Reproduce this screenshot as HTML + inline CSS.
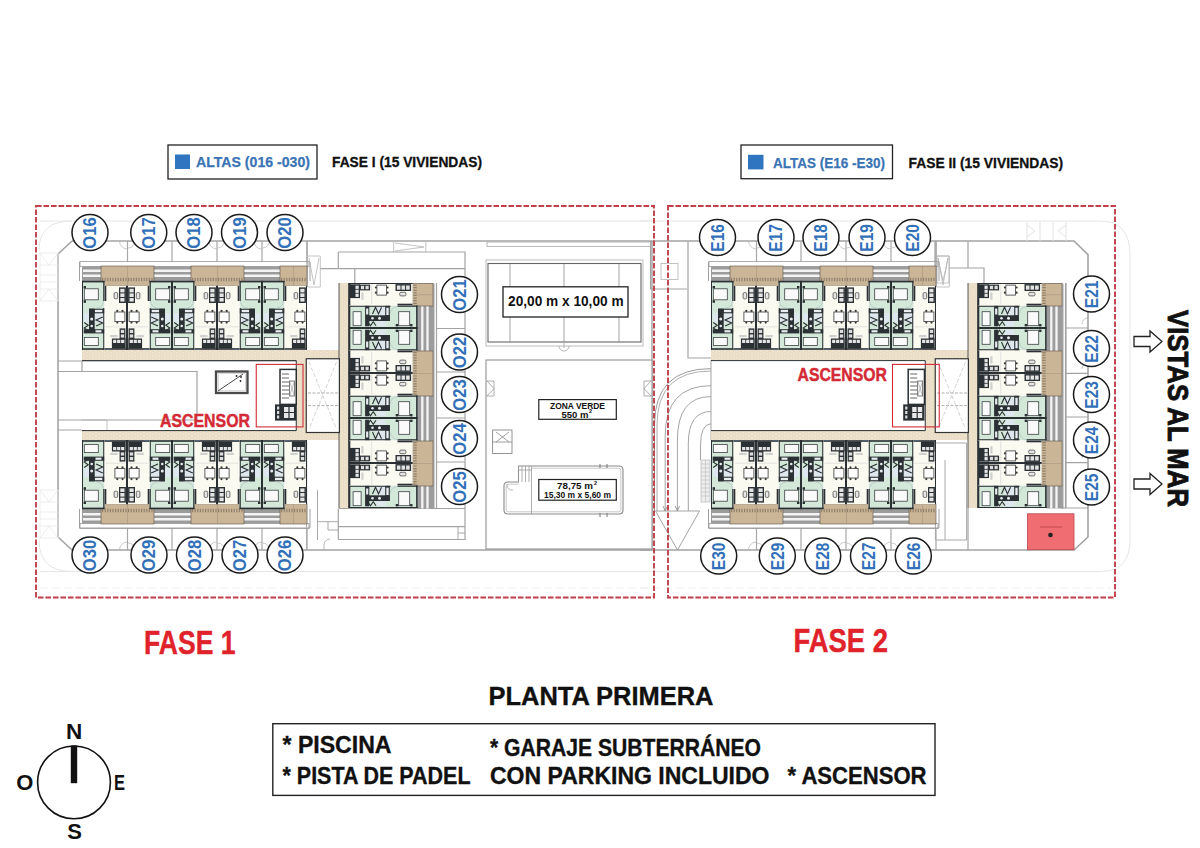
<!DOCTYPE html><html><head><meta charset="utf-8"><style>html,body{margin:0;padding:0;background:#fff;}svg{display:block;font-family:"Liberation Sans",sans-serif;}</style></head><body>
<svg width="1200" height="848" viewBox="0 0 1200 848">
<defs>
<pattern id="brick" width="6" height="3.4" patternUnits="userSpaceOnUse"><rect width="6" height="3.4" fill="#f4ecdc"/><rect x="0.4" y="0.3" width="5.2" height="1.1" fill="#e3d6bb"/><rect x="-2.6" y="2" width="5.2" height="1.1" fill="#e3d6bb"/><rect x="3.4" y="2" width="5.2" height="1.1" fill="#e3d6bb"/></pattern>
<g id="G"><rect x="0" y="0" width="22.5" height="69" fill="#d3e8d8"/><rect x="0" y="-0.2" width="1.0" height="69.2" fill="#2b3034"/><rect x="0" y="-0.2" width="22.5" height="1.6" fill="#2b3034"/><rect x="0" y="67.2" width="22.5" height="1.6" fill="#2b3034"/><rect x="21.2" y="0" width="1.3" height="20" fill="#2b3034"/><rect x="21.2" y="27" width="1.3" height="42" fill="#2b3034"/><path d="M21.5 20A7 7 0 0 1 14.5 27" stroke="#9ab" stroke-width="0.4" fill="none"/><rect x="2.3" y="7.8" width="14" height="11" fill="#fafafa" stroke="#3c4044" stroke-width="0.8"/><rect x="2.3" y="56.4" width="14" height="8" fill="#fafafa" stroke="#3c4044" stroke-width="0.8"/><rect x="1.6" y="5" width="2.4" height="2.4" fill="#2b3034"/><rect x="1.6" y="19.2" width="2.4" height="2.6" fill="#2b3034"/><rect x="2" y="32" width="5" height="9" fill="#dfe7ee"/><rect x="13" y="32" width="8" height="9" fill="#dfe7ee"/><rect x="7" y="27.7" width="15.5" height="4.6" fill="#2b3034"/><rect x="12.8" y="28.8" width="7.5" height="2.4" fill="#e8eef0"/><rect x="7" y="27.7" width="5.7" height="23.8" fill="#2b3034"/><circle cx="9.7" cy="38" r="1.5" fill="#e6ecee"/><circle cx="9.7" cy="45" r="1.3" fill="#e6ecee"/><path d="M2.2 41.5L6.2 44.3L2.2 47L6.2 49.8" stroke="#2b3034" stroke-width="1.1" fill="none"/><path d="M20.8 36L14 39L20.8 42L14 45" stroke="#2b3034" stroke-width="1.1" fill="none"/><rect x="1.7" y="48.2" width="20.8" height="4.2" fill="#2b3034"/><rect x="13.5" y="49.2" width="6" height="2.2" fill="#e8eef0"/></g>
<g id="W"><rect x="0" y="4.8" width="22.5" height="64.2" fill="#fbfaf1"/><rect x="21.5" y="4.8" width="1.0" height="64.2" fill="#2b3034"/><rect x="0" y="67.2" width="22.5" height="1.6" fill="#2b3034"/><rect x="0" y="5" width="1.8" height="15" fill="#2b3034"/><rect x="14.5" y="6.4" width="6.9" height="15.6" fill="#2b3034"/><rect x="15.8" y="7.8" width="4.2" height="3.6" fill="#e4e4e4"/><rect x="15.8" y="12.4" width="4.2" height="3.6" fill="#e4e4e4"/><rect x="15.8" y="17" width="4.2" height="3.6" fill="#e4e4e4"/><rect x="9.6" y="11.6" width="3.6" height="6.2" rx="1.2" fill="#e6e6e6" stroke="#3a3a3a" stroke-width="0.7"/><rect x="10.4" y="31" width="10" height="9.6" fill="#fdfdfd" stroke="#3a3a3a" stroke-width="0.8"/><circle cx="12.8" cy="29.9" r="1.1" fill="#3a3a3a"/><circle cx="18" cy="29.9" r="1.1" fill="#3a3a3a"/><circle cx="12.8" cy="41.6" r="1.1" fill="#3a3a3a"/><circle cx="18" cy="41.6" r="1.1" fill="#3a3a3a"/><path d="M1 45.8H21" stroke="#d2d2d2" stroke-width="0.6"/><rect x="15.1" y="47.4" width="5.8" height="11" fill="#2b3034"/><rect x="16.3" y="48.8" width="3.4" height="3.2" fill="#ddd"/><rect x="16.3" y="53.4" width="3.4" height="3.2" fill="#ddd"/><rect x="7.4" y="57.5" width="13.8" height="10" fill="#2b3034"/><rect x="8.6" y="58.8" width="3.2" height="3.2" fill="#e6e6e6"/><rect x="12.6" y="58.8" width="3.2" height="3.2" fill="#e6e6e6"/><rect x="16.6" y="58.8" width="3.2" height="3.2" fill="#e6e6e6"/><rect x="5.7" y="54" width="7.3" height="2.2" fill="#d0d0d0"/><path d="M0.8 68.8H5.4V71.5Q3 73.8 0.8 71.5Z" fill="#3d8ee0"/></g>
<g id="UA"><use href="#G"/><use href="#W" x="22.5"/></g>
<g id="UB"><use href="#UA" transform="matrix(-1,0,0,1,45,0)"/></g>
<g id="ROW"><rect x="-2" y="-19.5" width="229" height="5" fill="none" stroke="#9a9a9a" stroke-width="0.8"/><rect x="0" y="-14.5" width="225" height="14.5" fill="#9c9c9c"/><path d="M1 -10.25H224M1 -5.25H224" stroke="#f4f4f4" stroke-width="2.5"/><path d="M22.5 -15V0M67.5 -15V0M112.5 -15V0M157.5 -15V0M202.5 -15V0" stroke="#f2f2f2" stroke-width="1"/><rect x="19" y="-15" width="53" height="20" fill="#cbb597" stroke="#5d5448" stroke-width="0.6"/><path d="M20 -1.5H71" stroke="#8f806c" stroke-width="3.4" stroke-dasharray="1.2 1.4"/><path d="M45.5 -15V5" stroke="#9f8f7a" stroke-width="0.5"/><rect x="109" y="-15" width="53" height="20" fill="#cbb597" stroke="#5d5448" stroke-width="0.6"/><path d="M110 -1.5H161" stroke="#8f806c" stroke-width="3.4" stroke-dasharray="1.2 1.4"/><path d="M135.5 -15V5" stroke="#9f8f7a" stroke-width="0.5"/><rect x="198" y="-15" width="27" height="20" fill="#cbb597" stroke="#5d5448" stroke-width="0.6"/><path d="M199 -1.5H224" stroke="#8f806c" stroke-width="3.4" stroke-dasharray="1.2 1.4"/><path d="M211.5 -15V5" stroke="#9f8f7a" stroke-width="0.5"/><use href="#UA" x="0"/><use href="#UB" x="45"/><use href="#UA" x="90"/><use href="#UB" x="135"/><use href="#UA" x="180"/></g>
</defs>
<rect width="1200" height="848" fill="#fff"/>
<path d="M40 221H652" stroke="#e6e6e6" stroke-width="1" fill="none" />
<path d="M40 571.5H652" stroke="#e6e6e6" stroke-width="1" fill="none" />
<path d="M40 588H652" stroke="#ececec" stroke-width="0.8" fill="none" stroke-dasharray="8 4"/>
<path d="M72 241H668" stroke="#a3a3a3" stroke-width="1.6" fill="none" />
<path d="M72 241L58 254V537L72 550H652" stroke="#a3a3a3" stroke-width="1.6" fill="none" />
<path d="M338.3 252H465V540M338.3 252V268.6M320 268.6H465M354.8 268.6V283" stroke="#a3a3a3" stroke-width="1.2" fill="none" />
<path d="M393.7 241V252M425.8 241V252M395 243L424 247L395 251" stroke="#b5b5b5" stroke-width="0.8" fill="none" />
<path d="M58 361H298M58 371.5H197V420H58M58 430H82M82 361V371.5" stroke="#a3a3a3" stroke-width="1.2" fill="none" />
<path d="M82 420H107V430" stroke="#b0b0b0" stroke-width="0.8" fill="none" />
<path d="M339 508.5H465M338.3 539.5H465M338.3 508.5V539.5M338.3 526.7H465M436.5 328.5H465M436.5 372H465M436.5 418H465M436.5 462H465" stroke="#a3a3a3" stroke-width="1.2" fill="none" />
<path d="M306.7 440V550M317.5 490V540M317.5 521.7H338.3M328 522V530H338M458 526.7V539M458 533H465" stroke="#a8a8a8" stroke-width="1.0" fill="none" />
<path d="M324 550V545A6 6 0 0 1 330 539" stroke="#999" stroke-width="0.7" fill="none" />
<path d="M652 241V550" stroke="#a3a3a3" stroke-width="1.4" fill="none" />
<path d="M39 250Q39 221 72 221M39 540Q39 571.5 72 571.5" stroke="#e6e6e6" stroke-width="1" fill="none" />
<path d="M40 253H58V301H40ZM40 253L49 265L58 253M40 301L49 289L58 301M40 265H58M40 275H58M40 282H58M40 289H58" stroke="#e8e8e8" stroke-width="0.8" fill="none" />
<path d="M40 490H58V538H40ZM40 490L49 502L58 490M40 538L49 526L58 538M40 502H58M40 512H58M40 519H58M40 526H58" stroke="#e8e8e8" stroke-width="0.8" fill="none" />
<rect x="216" y="371.5" width="31.5" height="21.5" fill="#fff" stroke="#4a4a4a" stroke-width="2.3"/>
<rect x="218.2" y="373.7" width="27.1" height="17.1" fill="none" stroke="#bbb" stroke-width="0.6"/>
<path d="M218 391L243 374" stroke="#333" stroke-width="0.9" fill="none" />
<circle cx="236.5" cy="376" r="0.9" fill="#222"/><circle cx="241" cy="377" r="0.9" fill="#222"/><circle cx="240.5" cy="381" r="0.9" fill="#222"/>
<text x="160" y="426.6" font-size="17.8" font-weight="bold" fill="#d42a35" text-anchor="start" textLength="90" lengthAdjust="spacingAndGlyphs" stroke="#d42a35" stroke-width="0.45">ASCENSOR</text>
<rect x="487" y="242" width="164" height="4.4" fill="none" stroke="#b0b0b0" stroke-width="0.9"/>
<rect x="486" y="260" width="157" height="86" fill="#fff" stroke="#b5b5b5" stroke-width="0.9"/>
<rect x="488" y="263.5" width="153" height="78.5" fill="none" stroke="#666" stroke-width="1.1"/>
<path d="M559 346A5 5 0 0 0 569 346M564 342V348" stroke="#999" stroke-width="0.7" fill="none" />
<path d="M510 264V342M564 264V342M619 264V342" stroke="#999" stroke-width="0.9" fill="none" />
<rect x="503" y="286.8" width="125" height="30.2" fill="#fff" stroke="#222" stroke-width="1.3"/>
<text x="565.8" y="306.3" font-size="14" font-weight="bold" fill="#111" text-anchor="middle" textLength="115.5" lengthAdjust="spacingAndGlyphs" >20,00 m x 10,00 m</text>
<rect x="486" y="360" width="166" height="189" fill="#fff" stroke="#9b9b9b" stroke-width="1.2"/>
<rect x="538.8" y="399.6" width="77.5" height="19.7" fill="#fff" stroke="#222" stroke-width="1.2"/>
<text x="577.5" y="409" font-size="8.5" font-weight="bold" fill="#111" text-anchor="middle" textLength="55" lengthAdjust="spacingAndGlyphs" >ZONA VERDE</text>
<text x="575" y="417.5" font-size="8.5" font-weight="bold" fill="#111" text-anchor="middle" textLength="27" lengthAdjust="spacingAndGlyphs" >550 m</text>
<text x="589" y="413" font-size="5.5" font-weight="bold" fill="#111" text-anchor="start" >2</text>
<path d="M487 381L494 388.5L487 396M494 381V396M486.5 381H494M486.5 396H494M651 381L644 388.5L651 396M644 381V396M644 381H651.5M644 396H651.5" stroke="#9a9a9a" stroke-width="0.8" fill="none" />
<path d="M531.5 466H619Q623 466 623 470V510Q623 514 619 514H508Q504 514 504 510V486Q504 482 508 482H518.5V466Z" fill="#fff" stroke="#8a8a8a" stroke-width="1.1"/>
<path d="M532 468.2H618.5Q620.8 468.2 620.8 470.5V509.5Q620.8 511.8 618.5 511.8H508.5Q506.2 511.8 506.2 509.5V486.5Q506.2 484.2 508.5 484.2H518.5" fill="none" stroke="#b0b0b0" stroke-width="0.7"/>
<path d="M507 484.5A5 5 0 0 0 513 490" stroke="#999" stroke-width="0.7" fill="none" />
<path d="M518.5 466V482M531.5 466V514M518.5 470H531.5M522 466V482M525.5 466V482M529 466V482" stroke="#999" stroke-width="0.8" fill="none" />
<rect x="538.8" y="479.5" width="77.5" height="20.7" fill="#fff" stroke="#222" stroke-width="1.2"/>
<text x="575" y="489" font-size="8.5" font-weight="bold" fill="#111" text-anchor="middle" textLength="36" lengthAdjust="spacingAndGlyphs" >78,75 m</text>
<text x="594" y="485" font-size="5.5" font-weight="bold" fill="#111" text-anchor="start" >2</text>
<text x="577.5" y="498" font-size="8.5" font-weight="bold" fill="#111" text-anchor="middle" textLength="67" lengthAdjust="spacingAndGlyphs" >15,30 m x 5,60 m</text>
<rect x="492.6" y="430" width="19.4" height="23.5" fill="none" stroke="#888" stroke-width="0.9"/>
<path d="M496 432L509 442M509 432L496 442M492.6 442H512" stroke="#888" stroke-width="0.8" fill="none" />
<path d="M600 464V468M607 464V468M600 513V517M607 513V517" stroke="#777" stroke-width="1" fill="none" />
<path d="M640 221H1100Q1130 221 1130 255V540Q1130 571.5 1100 571.5H640" stroke="#e6e6e6" stroke-width="1" fill="none" />
<path d="M640 588H1110" stroke="#ececec" stroke-width="0.8" fill="none" stroke-dasharray="8 4"/>
<path d="M668 241H1074L1088 254.6V537L1074 550H640" stroke="#a3a3a3" stroke-width="1.6" fill="none" />
<path d="M650.6 241V289H687M688 241V358H711" stroke="#a3a3a3" stroke-width="1.2" fill="none" />
<rect x="661" y="263.5" width="17" height="16" fill="none" stroke="#b5b5b5" stroke-width="0.8"/>
<path d="M711 368.6Q654.5 368.6 654.5 425V511" stroke="#9a9a9a" stroke-width="1.0" fill="none" />
<path d="M711 371Q657 371 657 425V511" stroke="#9a9a9a" stroke-width="0.8" fill="none" />
<path d="M711 385.7Q665.2 385.7 665.2 436V511" stroke="#9a9a9a" stroke-width="0.9" fill="none" />
<path d="M711 396.6Q677.4 396.6 677.4 440V511" stroke="#9a9a9a" stroke-width="0.9" fill="none" />
<path d="M711 411.5Q688.3 411.5 688.3 444V511" stroke="#9a9a9a" stroke-width="0.9" fill="none" />
<path d="M711 423.8Q700.5 423.8 700.5 446V460" stroke="#9a9a9a" stroke-width="0.9" fill="none" />
<path d="M663 506L665.2 511L667.4 506M675.2 506L677.4 511L679.6 506" stroke="#888" stroke-width="0.8" fill="none" />
<path d="M655.5 511H699.6L677.5 550Z" stroke="#9a9a9a" stroke-width="0.9" fill="none" />
<rect x="701" y="460" width="9" height="42" fill="#eee" stroke="#aaa" stroke-width="0.6"/>
<path d="M701 464H710M701 468H710M701 472H710M701 476H710M701 480H710M701 484H710M701 488H710M701 492H710M701 496H710M705.5 460V502" stroke="#bbb" stroke-width="0.6" fill="none" />
<path d="M711 360V440" stroke="#a3a3a3" stroke-width="1.0" fill="none" />
<path d="M935 241V283M968 241V268M949.8 268H984V283" stroke="#a3a3a3" stroke-width="1.2" fill="none" />
<path d="M937 256H949V283H937ZM938 258L943 281L948 258" stroke="#b5b5b5" stroke-width="0.8" fill="none" />
<path d="M968 508V550M1066 283V508M1061 508H1088" stroke="#a3a3a3" stroke-width="1.2" fill="none" />
<path d="M935.4 443H966.6V540H935.4ZM945 460V540" stroke="#a8a8a8" stroke-width="1.0" fill="none" />
<path d="M1027 221V241M1040 221V241M1053 221V241M1066 221V241M1027 225L1035 231L1027 237M1066 225L1058 231L1066 237" stroke="#e0e0e0" stroke-width="0.9" fill="none" />
<path d="M1066 328H1088M1066 373.4H1088M1066 417H1088M1066 462.6H1088" stroke="#a3a3a3" stroke-width="1.1" fill="none" />
<path d="M1088 318A6 6 0 0 0 1082 324M1088 363A6 6 0 0 0 1082 369M1088 452A6 6 0 0 0 1082 458" stroke="#aaa" stroke-width="0.7" fill="none" />
<text x="797.5" y="380.5" font-size="17.8" font-weight="bold" fill="#d42a35" text-anchor="start" textLength="89.5" lengthAdjust="spacingAndGlyphs" stroke="#d42a35" stroke-width="0.45">ASCENSOR</text>
<rect x="1027.4" y="513.8" width="46.6" height="35.9" fill="#f06d72" stroke="#b8474c" stroke-width="0.8"/>
<circle cx="1050.5" cy="535" r="2.3" fill="#222"/>
<path d="M1040 527H1062" stroke="#a33" stroke-width="0.6"/>
<g transform="translate(0,0)">
<path d="M127.5 241V262M127.5 528V550" stroke="#a8a8a8" stroke-width="1.2" fill="none" />
<path d="M172 241V262M172 528V550" stroke="#a8a8a8" stroke-width="1.2" fill="none" />
<path d="M217 241V262M217 528V550" stroke="#a8a8a8" stroke-width="1.2" fill="none" />
<path d="M262 241V262M262 528V550" stroke="#a8a8a8" stroke-width="1.2" fill="none" />
<path d="M307 241V262M307 528V550" stroke="#a8a8a8" stroke-width="1.2" fill="none" />
<path d="M119.5 241A8 8 0 0 0 126.9 249M135.0 241A7 7 0 0 1 128.1 248M119.5 550A8 8 0 0 1 126.9 542M135.0 550A7 7 0 0 0 128.1 543" stroke="#b5b5b5" stroke-width="0.7" fill="none" />
<path d="M209 241A8 8 0 0 0 216.4 249M224.5 241A7 7 0 0 1 217.6 248M209 550A8 8 0 0 1 216.4 542M224.5 550A7 7 0 0 0 217.6 543" stroke="#b5b5b5" stroke-width="0.7" fill="none" />
<path d="M254 241A8 8 0 0 0 261.4 249M269.5 241A7 7 0 0 1 262.6 248M254 550A8 8 0 0 1 261.4 542M269.5 550A7 7 0 0 0 262.6 543" stroke="#b5b5b5" stroke-width="0.7" fill="none" />
<path d="M79.5 262V281M310 262V281M79.5 509V528H310V509" stroke="#a0a0a0" stroke-width="1" fill="none" />
<path d="M307 241V283" stroke="#a3a3a3" stroke-width="1.2" fill="none" />
<path d="M307.5 256H320.3V287H307.5ZM309 258L314 285L319 258" stroke="#b5b5b5" stroke-width="0.8" fill="none" />
<path d="M436.5 283V508.5" stroke="#a3a3a3" stroke-width="1.2" fill="none" />
<use href="#ROW" x="82" y="281"/>
<use href="#ROW" transform="matrix(1,0,0,-1,82,509)"/>
<rect x="417.5" y="283.5" width="15.5" height="225" fill="#9c9c9c"/>
<path d="M422.3 283.5V508.5M427.5 283.5V508.5" stroke="#f4f4f4" stroke-width="2.3"/>
<rect x="412.5" y="283.5" width="20.5" height="22.5" fill="#cbb597" stroke="#5d5448" stroke-width="0.6"/>
<path d="M415 284.5V305.0" stroke="#8f806c" stroke-width="3.4" stroke-dasharray="1.2 1.4"/>
<path d="M412.5 294.75H433" stroke="#9f8f7a" stroke-width="0.5"/>
<rect x="412.5" y="351" width="20.5" height="45" fill="#cbb597" stroke="#5d5448" stroke-width="0.6"/>
<path d="M415 352V395" stroke="#8f806c" stroke-width="3.4" stroke-dasharray="1.2 1.4"/>
<path d="M412.5 373.5H433" stroke="#9f8f7a" stroke-width="0.5"/>
<rect x="412.5" y="441" width="20.5" height="45" fill="#cbb597" stroke="#5d5448" stroke-width="0.6"/>
<path d="M415 442V485" stroke="#8f806c" stroke-width="3.4" stroke-dasharray="1.2 1.4"/>
<path d="M412.5 463.5H433" stroke="#9f8f7a" stroke-width="0.5"/>
<g transform="matrix(0,1,-1,0,417.5,283)"><use href="#UB" x="0"/><use href="#UA" x="45"/><use href="#UB" x="90"/><use href="#UA" x="135"/><use href="#UB" x="180"/></g>
<path d="M433.8 283.5V508.5" stroke="#888" stroke-width="1.2" fill="none" />
<rect x="82" y="350" width="266" height="10" fill="url(#brick)"/>
<rect x="82" y="430" width="266" height="10" fill="url(#brick)"/>
<rect x="339" y="283" width="9.5" height="225" fill="url(#brick)"/>
<path d="M339 283V508M348.5 283V508" stroke="#2b3034" stroke-width="0.8"/>
<rect x="296.25" y="358.75" width="10" height="73.75" fill="url(#brick)"/>
<path d="M82 360.6H296.25V430.6H82" stroke="#2b3034" stroke-width="1" fill="none"/>
<rect x="306.25" y="358.75" width="33.15" height="73.75" fill="#fff" stroke="#333" stroke-width="1.2"/>
<path d="M309 362L336.5 429M336.5 362L309 429" stroke="#c0c0c0" stroke-width="0.7" fill="none" stroke-dasharray="4 2"/>
<path d="M308 393H338M308 405.6H338" stroke="#999" stroke-width="0.8" fill="none" stroke-dasharray="3 1.5"/>
</g>
<g transform="translate(629,0)">
<path d="M127.5 241V262M127.5 528V550" stroke="#a8a8a8" stroke-width="1.2" fill="none" />
<path d="M172 241V262M172 528V550" stroke="#a8a8a8" stroke-width="1.2" fill="none" />
<path d="M217 241V262M217 528V550" stroke="#a8a8a8" stroke-width="1.2" fill="none" />
<path d="M262 241V262M262 528V550" stroke="#a8a8a8" stroke-width="1.2" fill="none" />
<path d="M307 241V262M307 528V550" stroke="#a8a8a8" stroke-width="1.2" fill="none" />
<path d="M119.5 241A8 8 0 0 0 126.9 249M135.0 241A7 7 0 0 1 128.1 248M119.5 550A8 8 0 0 1 126.9 542M135.0 550A7 7 0 0 0 128.1 543" stroke="#b5b5b5" stroke-width="0.7" fill="none" />
<path d="M209 241A8 8 0 0 0 216.4 249M224.5 241A7 7 0 0 1 217.6 248M209 550A8 8 0 0 1 216.4 542M224.5 550A7 7 0 0 0 217.6 543" stroke="#b5b5b5" stroke-width="0.7" fill="none" />
<path d="M254 241A8 8 0 0 0 261.4 249M269.5 241A7 7 0 0 1 262.6 248M254 550A8 8 0 0 1 261.4 542M269.5 550A7 7 0 0 0 262.6 543" stroke="#b5b5b5" stroke-width="0.7" fill="none" />
<path d="M79.5 262V281M310 262V281M79.5 509V528H310V509" stroke="#a0a0a0" stroke-width="1" fill="none" />
<path d="M307 241V283" stroke="#a3a3a3" stroke-width="1.2" fill="none" />
<path d="M307.5 256H320.3V287H307.5ZM309 258L314 285L319 258" stroke="#b5b5b5" stroke-width="0.8" fill="none" />
<path d="M436.5 283V508.5" stroke="#a3a3a3" stroke-width="1.2" fill="none" />
<use href="#ROW" x="82" y="281"/>
<use href="#ROW" transform="matrix(1,0,0,-1,82,509)"/>
<rect x="417.5" y="283.5" width="15.5" height="225" fill="#9c9c9c"/>
<path d="M422.3 283.5V508.5M427.5 283.5V508.5" stroke="#f4f4f4" stroke-width="2.3"/>
<rect x="412.5" y="283.5" width="20.5" height="22.5" fill="#cbb597" stroke="#5d5448" stroke-width="0.6"/>
<path d="M415 284.5V305.0" stroke="#8f806c" stroke-width="3.4" stroke-dasharray="1.2 1.4"/>
<path d="M412.5 294.75H433" stroke="#9f8f7a" stroke-width="0.5"/>
<rect x="412.5" y="351" width="20.5" height="45" fill="#cbb597" stroke="#5d5448" stroke-width="0.6"/>
<path d="M415 352V395" stroke="#8f806c" stroke-width="3.4" stroke-dasharray="1.2 1.4"/>
<path d="M412.5 373.5H433" stroke="#9f8f7a" stroke-width="0.5"/>
<rect x="412.5" y="441" width="20.5" height="45" fill="#cbb597" stroke="#5d5448" stroke-width="0.6"/>
<path d="M415 442V485" stroke="#8f806c" stroke-width="3.4" stroke-dasharray="1.2 1.4"/>
<path d="M412.5 463.5H433" stroke="#9f8f7a" stroke-width="0.5"/>
<g transform="matrix(0,1,-1,0,417.5,283)"><use href="#UB" x="0"/><use href="#UA" x="45"/><use href="#UB" x="90"/><use href="#UA" x="135"/><use href="#UB" x="180"/></g>
<path d="M433.8 283.5V508.5" stroke="#888" stroke-width="1.2" fill="none" />
<rect x="82" y="350" width="266" height="10" fill="url(#brick)"/>
<rect x="82" y="430" width="266" height="10" fill="url(#brick)"/>
<rect x="339" y="283" width="9.5" height="225" fill="url(#brick)"/>
<path d="M339 283V508M348.5 283V508" stroke="#2b3034" stroke-width="0.8"/>
<rect x="296.25" y="358.75" width="10" height="73.75" fill="url(#brick)"/>
<path d="M82 360.6H296.25V430.6H82" stroke="#2b3034" stroke-width="1" fill="none"/>
<rect x="306.25" y="358.75" width="33.15" height="73.75" fill="#fff" stroke="#333" stroke-width="1.2"/>
<path d="M309 362L336.5 429M336.5 362L309 429" stroke="#c0c0c0" stroke-width="0.7" fill="none" stroke-dasharray="4 2"/>
<path d="M308 393H338M308 405.6H338" stroke="#999" stroke-width="0.8" fill="none" stroke-dasharray="3 1.5"/>
</g>
<g transform="translate(0,0)">
<rect x="280" y="369.4" width="16.25" height="35" fill="#fff" stroke="#2b3034" stroke-width="1.5"/>
<path d="M282 374H289M282 378H289M282 382H289M282 386H289M282 390H289M282 394H289M282 398H289" stroke="#555" stroke-width="0.9" fill="none" />
<rect x="289.5" y="381" width="5" height="15" fill="#fafafa" stroke="#444" stroke-width="0.7"/>
<path d="M289.5 381L294.5 396M294.5 381L289.5 396" stroke="#888" stroke-width="0.5" fill="none" />
<rect x="275" y="404.4" width="21.25" height="16.2" fill="#2b3034"/>
<rect x="277" y="406.5" width="2.2" height="3" fill="#ddd"/><rect x="277" y="411" width="2.2" height="3" fill="#ddd"/><rect x="277" y="415.5" width="2.2" height="3" fill="#ddd"/>
<rect x="284" y="407" width="10" height="11" fill="#e8e8e8"/>
<path d="M289 407V418M284 412.5H294" stroke="#2b3034" stroke-width="1.2" fill="none" />
<rect x="256.25" y="364.4" width="46.75" height="62.5" fill="none" stroke="#d42a35" stroke-width="1.1"/>
</g>
<g transform="translate(628.2,0)">
<rect x="280" y="369.4" width="16.25" height="35" fill="#fff" stroke="#2b3034" stroke-width="1.5"/>
<path d="M282 374H289M282 378H289M282 382H289M282 386H289M282 390H289M282 394H289M282 398H289" stroke="#555" stroke-width="0.9" fill="none" />
<rect x="289.5" y="381" width="5" height="15" fill="#fafafa" stroke="#444" stroke-width="0.7"/>
<path d="M289.5 381L294.5 396M294.5 381L289.5 396" stroke="#888" stroke-width="0.5" fill="none" />
<rect x="275" y="404.4" width="21.25" height="16.2" fill="#2b3034"/>
<rect x="277" y="406.5" width="2.2" height="3" fill="#ddd"/><rect x="277" y="411" width="2.2" height="3" fill="#ddd"/><rect x="277" y="415.5" width="2.2" height="3" fill="#ddd"/>
<rect x="284" y="407" width="10" height="11" fill="#e8e8e8"/>
<path d="M289 407V418M284 412.5H294" stroke="#2b3034" stroke-width="1.2" fill="none" />
<rect x="264.3" y="364.4" width="46.75" height="62.5" fill="none" stroke="#d42a35" stroke-width="1.1"/>
</g>
<circle cx="90" cy="232.5" r="18" fill="#fff" stroke="#1a1a1a" stroke-width="1.5"/>
<text transform="translate(96.2,232.9) rotate(-90)" x="0" y="0" text-anchor="middle" textLength="31.5" lengthAdjust="spacingAndGlyphs" font-size="17.5" font-weight="bold" fill="#3271b9">O16</text>
<circle cx="148.75" cy="232.5" r="18" fill="#fff" stroke="#1a1a1a" stroke-width="1.5"/>
<text transform="translate(154.95,232.9) rotate(-90)" x="0" y="0" text-anchor="middle" textLength="31.5" lengthAdjust="spacingAndGlyphs" font-size="17.5" font-weight="bold" fill="#3271b9">O17</text>
<circle cx="194" cy="232.5" r="18" fill="#fff" stroke="#1a1a1a" stroke-width="1.5"/>
<text transform="translate(200.2,232.9) rotate(-90)" x="0" y="0" text-anchor="middle" textLength="31.5" lengthAdjust="spacingAndGlyphs" font-size="17.5" font-weight="bold" fill="#3271b9">O18</text>
<circle cx="239.5" cy="232.5" r="18" fill="#fff" stroke="#1a1a1a" stroke-width="1.5"/>
<text transform="translate(245.7,232.9) rotate(-90)" x="0" y="0" text-anchor="middle" textLength="31.5" lengthAdjust="spacingAndGlyphs" font-size="17.5" font-weight="bold" fill="#3271b9">O19</text>
<circle cx="285" cy="232.5" r="18" fill="#fff" stroke="#1a1a1a" stroke-width="1.5"/>
<text transform="translate(291.2,232.9) rotate(-90)" x="0" y="0" text-anchor="middle" textLength="31.5" lengthAdjust="spacingAndGlyphs" font-size="17.5" font-weight="bold" fill="#3271b9">O20</text>
<circle cx="90" cy="555" r="18" fill="#fff" stroke="#1a1a1a" stroke-width="1.5"/>
<text transform="translate(96.2,555.4) rotate(-90)" x="0" y="0" text-anchor="middle" textLength="31.5" lengthAdjust="spacingAndGlyphs" font-size="17.5" font-weight="bold" fill="#3271b9">O30</text>
<circle cx="149" cy="555" r="18" fill="#fff" stroke="#1a1a1a" stroke-width="1.5"/>
<text transform="translate(155.2,555.4) rotate(-90)" x="0" y="0" text-anchor="middle" textLength="31.5" lengthAdjust="spacingAndGlyphs" font-size="17.5" font-weight="bold" fill="#3271b9">O29</text>
<circle cx="194.5" cy="555" r="18" fill="#fff" stroke="#1a1a1a" stroke-width="1.5"/>
<text transform="translate(200.7,555.4) rotate(-90)" x="0" y="0" text-anchor="middle" textLength="31.5" lengthAdjust="spacingAndGlyphs" font-size="17.5" font-weight="bold" fill="#3271b9">O28</text>
<circle cx="240" cy="555" r="18" fill="#fff" stroke="#1a1a1a" stroke-width="1.5"/>
<text transform="translate(246.2,555.4) rotate(-90)" x="0" y="0" text-anchor="middle" textLength="31.5" lengthAdjust="spacingAndGlyphs" font-size="17.5" font-weight="bold" fill="#3271b9">O27</text>
<circle cx="285" cy="555" r="18" fill="#fff" stroke="#1a1a1a" stroke-width="1.5"/>
<text transform="translate(291.2,555.4) rotate(-90)" x="0" y="0" text-anchor="middle" textLength="31.5" lengthAdjust="spacingAndGlyphs" font-size="17.5" font-weight="bold" fill="#3271b9">O26</text>
<circle cx="459.5" cy="294.5" r="18" fill="#fff" stroke="#1a1a1a" stroke-width="1.5"/>
<text transform="translate(465.7,294.9) rotate(-90)" x="0" y="0" text-anchor="middle" textLength="31.5" lengthAdjust="spacingAndGlyphs" font-size="17.5" font-weight="bold" fill="#3271b9">O21</text>
<circle cx="459.5" cy="352" r="18" fill="#fff" stroke="#1a1a1a" stroke-width="1.5"/>
<text transform="translate(465.7,352.4) rotate(-90)" x="0" y="0" text-anchor="middle" textLength="31.5" lengthAdjust="spacingAndGlyphs" font-size="17.5" font-weight="bold" fill="#3271b9">O22</text>
<circle cx="459.5" cy="394.5" r="18" fill="#fff" stroke="#1a1a1a" stroke-width="1.5"/>
<text transform="translate(465.7,394.9) rotate(-90)" x="0" y="0" text-anchor="middle" textLength="31.5" lengthAdjust="spacingAndGlyphs" font-size="17.5" font-weight="bold" fill="#3271b9">O23</text>
<circle cx="459.5" cy="438.6" r="18" fill="#fff" stroke="#1a1a1a" stroke-width="1.5"/>
<text transform="translate(465.7,439.0) rotate(-90)" x="0" y="0" text-anchor="middle" textLength="31.5" lengthAdjust="spacingAndGlyphs" font-size="17.5" font-weight="bold" fill="#3271b9">O24</text>
<circle cx="459.5" cy="486.5" r="18" fill="#fff" stroke="#1a1a1a" stroke-width="1.5"/>
<text transform="translate(465.7,486.9) rotate(-90)" x="0" y="0" text-anchor="middle" textLength="31.5" lengthAdjust="spacingAndGlyphs" font-size="17.5" font-weight="bold" fill="#3271b9">O25</text>
<circle cx="717.5" cy="237.5" r="18" fill="#fff" stroke="#1a1a1a" stroke-width="1.5"/>
<text transform="translate(723.7,237.9) rotate(-90)" x="0" y="0" text-anchor="middle" textLength="27.5" lengthAdjust="spacingAndGlyphs" font-size="17.5" font-weight="bold" fill="#3271b9">E16</text>
<circle cx="776" cy="237.5" r="18" fill="#fff" stroke="#1a1a1a" stroke-width="1.5"/>
<text transform="translate(782.2,237.9) rotate(-90)" x="0" y="0" text-anchor="middle" textLength="27.5" lengthAdjust="spacingAndGlyphs" font-size="17.5" font-weight="bold" fill="#3271b9">E17</text>
<circle cx="821" cy="237.5" r="18" fill="#fff" stroke="#1a1a1a" stroke-width="1.5"/>
<text transform="translate(827.2,237.9) rotate(-90)" x="0" y="0" text-anchor="middle" textLength="27.5" lengthAdjust="spacingAndGlyphs" font-size="17.5" font-weight="bold" fill="#3271b9">E18</text>
<circle cx="867" cy="237.5" r="18" fill="#fff" stroke="#1a1a1a" stroke-width="1.5"/>
<text transform="translate(873.2,237.9) rotate(-90)" x="0" y="0" text-anchor="middle" textLength="27.5" lengthAdjust="spacingAndGlyphs" font-size="17.5" font-weight="bold" fill="#3271b9">E19</text>
<circle cx="912.5" cy="237.5" r="18" fill="#fff" stroke="#1a1a1a" stroke-width="1.5"/>
<text transform="translate(918.7,237.9) rotate(-90)" x="0" y="0" text-anchor="middle" textLength="27.5" lengthAdjust="spacingAndGlyphs" font-size="17.5" font-weight="bold" fill="#3271b9">E20</text>
<circle cx="718.7" cy="556" r="18" fill="#fff" stroke="#1a1a1a" stroke-width="1.5"/>
<text transform="translate(724.9000000000001,556.4) rotate(-90)" x="0" y="0" text-anchor="middle" textLength="27.5" lengthAdjust="spacingAndGlyphs" font-size="17.5" font-weight="bold" fill="#3271b9">E30</text>
<circle cx="777.3" cy="556" r="18" fill="#fff" stroke="#1a1a1a" stroke-width="1.5"/>
<text transform="translate(783.5,556.4) rotate(-90)" x="0" y="0" text-anchor="middle" textLength="27.5" lengthAdjust="spacingAndGlyphs" font-size="17.5" font-weight="bold" fill="#3271b9">E29</text>
<circle cx="822.7" cy="556" r="18" fill="#fff" stroke="#1a1a1a" stroke-width="1.5"/>
<text transform="translate(828.9000000000001,556.4) rotate(-90)" x="0" y="0" text-anchor="middle" textLength="27.5" lengthAdjust="spacingAndGlyphs" font-size="17.5" font-weight="bold" fill="#3271b9">E28</text>
<circle cx="868.5" cy="556" r="18" fill="#fff" stroke="#1a1a1a" stroke-width="1.5"/>
<text transform="translate(874.7,556.4) rotate(-90)" x="0" y="0" text-anchor="middle" textLength="27.5" lengthAdjust="spacingAndGlyphs" font-size="17.5" font-weight="bold" fill="#3271b9">E27</text>
<circle cx="913.3" cy="556" r="18" fill="#fff" stroke="#1a1a1a" stroke-width="1.5"/>
<text transform="translate(919.5,556.4) rotate(-90)" x="0" y="0" text-anchor="middle" textLength="27.5" lengthAdjust="spacingAndGlyphs" font-size="17.5" font-weight="bold" fill="#3271b9">E26</text>
<circle cx="1091.5" cy="294" r="18" fill="#fff" stroke="#1a1a1a" stroke-width="1.5"/>
<text transform="translate(1097.7,294.4) rotate(-90)" x="0" y="0" text-anchor="middle" textLength="27.5" lengthAdjust="spacingAndGlyphs" font-size="17.5" font-weight="bold" fill="#3271b9">E21</text>
<circle cx="1091.5" cy="348.5" r="18" fill="#fff" stroke="#1a1a1a" stroke-width="1.5"/>
<text transform="translate(1097.7,348.9) rotate(-90)" x="0" y="0" text-anchor="middle" textLength="27.5" lengthAdjust="spacingAndGlyphs" font-size="17.5" font-weight="bold" fill="#3271b9">E22</text>
<circle cx="1091.5" cy="394.5" r="18" fill="#fff" stroke="#1a1a1a" stroke-width="1.5"/>
<text transform="translate(1097.7,394.9) rotate(-90)" x="0" y="0" text-anchor="middle" textLength="27.5" lengthAdjust="spacingAndGlyphs" font-size="17.5" font-weight="bold" fill="#3271b9">E23</text>
<circle cx="1091.5" cy="440" r="18" fill="#fff" stroke="#1a1a1a" stroke-width="1.5"/>
<text transform="translate(1097.7,440.4) rotate(-90)" x="0" y="0" text-anchor="middle" textLength="27.5" lengthAdjust="spacingAndGlyphs" font-size="17.5" font-weight="bold" fill="#3271b9">E24</text>
<circle cx="1091.5" cy="487" r="18" fill="#fff" stroke="#1a1a1a" stroke-width="1.5"/>
<text transform="translate(1097.7,487.4) rotate(-90)" x="0" y="0" text-anchor="middle" textLength="27.5" lengthAdjust="spacingAndGlyphs" font-size="17.5" font-weight="bold" fill="#3271b9">E25</text>
<rect x="36" y="206" width="618" height="391.5" fill="none" stroke="#c23f4a" stroke-width="1.9" stroke-dasharray="5.6 1.9"/>
<rect x="668" y="206" width="447" height="391.5" fill="none" stroke="#c23f4a" stroke-width="1.9" stroke-dasharray="5.6 1.9"/>
<rect x="168" y="145" width="149" height="34" fill="#fff" stroke="#222" stroke-width="1.3"/>
<rect x="175" y="154.5" width="15" height="14.5" fill="#2f75c0"/>
<text x="196" y="166.7" font-size="14.2" font-weight="bold" fill="#3a74b4" text-anchor="start" textLength="114" lengthAdjust="spacingAndGlyphs" stroke="#3a74b4" stroke-width="0.25">ALTAS (016 -030)</text>
<text x="332" y="167" font-size="14.2" font-weight="bold" fill="#111" text-anchor="start" textLength="150" lengthAdjust="spacingAndGlyphs" stroke="#111" stroke-width="0.3">FASE I (15 VIVIENDAS)</text>
<rect x="741" y="145" width="151.5" height="33.7" fill="#fff" stroke="#222" stroke-width="1.3"/>
<rect x="748" y="154.8" width="15.5" height="14.6" fill="#2f75c0"/>
<text x="773" y="167.5" font-size="14.2" font-weight="bold" fill="#3a74b4" text-anchor="start" textLength="112" lengthAdjust="spacingAndGlyphs" stroke="#3a74b4" stroke-width="0.25">ALTAS (E16 -E30)</text>
<text x="908.5" y="167.5" font-size="14.2" font-weight="bold" fill="#111" text-anchor="start" textLength="154.5" lengthAdjust="spacingAndGlyphs" stroke="#111" stroke-width="0.3">FASE II (15 VIVIENDAS)</text>
<text x="144" y="654" font-size="32.5" font-weight="bold" fill="#e0232b" text-anchor="start" textLength="91.5" lengthAdjust="spacingAndGlyphs" stroke="#e0232b" stroke-width="0.4">FASE 1</text>
<text x="793.5" y="652" font-size="32.5" font-weight="bold" fill="#e0232b" text-anchor="start" textLength="94.5" lengthAdjust="spacingAndGlyphs" stroke="#e0232b" stroke-width="0.4">FASE 2</text>
<text x="488.5" y="705.4" font-size="26" font-weight="bold" fill="#111" text-anchor="start" textLength="225" lengthAdjust="spacingAndGlyphs" stroke="#111" stroke-width="0.35">PLANTA PRIMERA</text>
<rect x="272.8" y="723.7" width="662.2" height="71.7" fill="#fff" stroke="#222" stroke-width="1.4"/>
<text x="282.5" y="753.3" font-size="24" font-weight="bold" fill="#111" text-anchor="start" textLength="109" lengthAdjust="spacingAndGlyphs" stroke="#111" stroke-width="0.35">* PISCINA</text>
<text x="490" y="755.8" font-size="24" font-weight="bold" fill="#111" text-anchor="start" textLength="271" lengthAdjust="spacingAndGlyphs" stroke="#111" stroke-width="0.35">* GARAJE SUBTERRÁNEO</text>
<text x="282.5" y="784.3" font-size="24" font-weight="bold" fill="#111" text-anchor="start" textLength="188" lengthAdjust="spacingAndGlyphs" stroke="#111" stroke-width="0.35">* PISTA DE PADEL</text>
<text x="490" y="784" font-size="24" font-weight="bold" fill="#111" text-anchor="start" textLength="279.5" lengthAdjust="spacingAndGlyphs" stroke="#111" stroke-width="0.35">CON PARKING INCLUIDO</text>
<text x="787.5" y="784" font-size="24" font-weight="bold" fill="#111" text-anchor="start" textLength="139" lengthAdjust="spacingAndGlyphs" stroke="#111" stroke-width="0.35">* ASCENSOR</text>
<text transform="translate(1167.5,310) rotate(90)" x="0" y="0" font-size="30" font-weight="bold" fill="#111" stroke="#111" stroke-width="0.9" textLength="197" lengthAdjust="spacingAndGlyphs">VISTAS AL MAR</text>
<path d="M1134 336.5H1150V331.0L1162 341.5L1150 352.0V346.5H1134Z" fill="#fff" stroke="#222" stroke-width="1.3"/>
<path d="M1134 479H1150V473.5L1162 484L1150 494.5V489H1134Z" fill="#fff" stroke="#222" stroke-width="1.3"/>
<circle cx="74" cy="782.4" r="36.4" fill="none" stroke="#111" stroke-width="1.6"/>
<rect x="70.8" y="745.5" width="6.4" height="37.7" fill="#111"/>
<text x="74" y="739.3" font-size="22.5" font-weight="bold" fill="#111" text-anchor="middle" >N</text>
<text x="24.7" y="789.5" font-size="22" font-weight="bold" fill="#111" text-anchor="middle" >O</text>
<text x="119.5" y="789.5" font-size="22" font-weight="bold" fill="#111" text-anchor="middle" textLength="11" lengthAdjust="spacingAndGlyphs" >E</text>
<text x="74.5" y="838.8" font-size="22" font-weight="bold" fill="#111" text-anchor="middle" >S</text>
</svg></body></html>
